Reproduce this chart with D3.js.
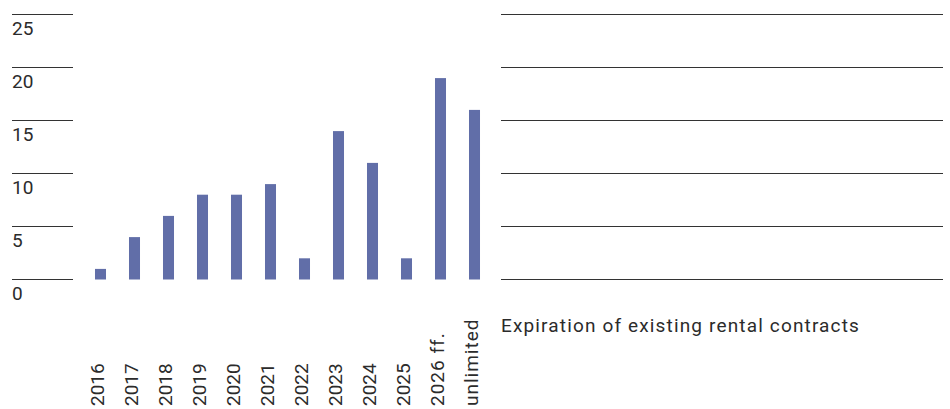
<!DOCTYPE html>
<html>
<head>
<meta charset="utf-8">
<script src="https://cdn.jsdelivr.net/npm/d3@7"></script>
<style>
  html, body { margin: 0; padding: 0; background: #fff; }
  svg { display: block; }
  text { font-family: Roboto, "DejaVu Sans", sans-serif; fill: #2b2b2b; }
</style>
</head>
<body>
<svg id="chart" width="950" height="409"></svg>
<script>
// Expiring rental contracts per year (share, %)
const categories = ["2016", "2017", "2018", "2019", "2020", "2021", "2022", "2023", "2024", "2025", "2026 ff.", "unlimited"];
const values = [1, 4, 6, 8, 8, 9, 2, 14, 11, 2, 19, 16];
const yTicks = [0, 5, 10, 15, 20, 25];
const caption = "Expiration of existing rental contracts";

const svg = d3.select("#chart");

const y = d3.scaleLinear().domain([0, 25]).range([279.5, 14.5]);

const x = d3.scaleBand()
  .domain(categories)
  .range([83.5, 491.5])
  .paddingInner(0.676)
  .paddingOuter(0.338);

// Horizontal gridlines: short stubs behind the tick labels and a wide panel on the right
const gridSegments = [[12, 73], [501, 943]];
gridSegments.forEach(([x0, x1]) => {
  svg.append("g").selectAll("line")
    .data(yTicks)
    .join("line")
    .attr("x1", x0).attr("x2", x1)
    .attr("y1", d => y(d)).attr("y2", d => y(d))
    .attr("stroke", "#333")
    .attr("stroke-width", 1.2);
});

// Y tick labels sit just below their gridline
svg.append("g").selectAll("text")
  .data(yTicks)
  .join("text")
  .attr("x", 12)
  .attr("y", d => y(d) + 20)
  .attr("font-size", 19)
  .text(d => d);

// Bars
svg.append("g").selectAll("rect")
  .data(values)
  .join("rect")
  .attr("x", (d, i) => x(categories[i]))
  .attr("width", x.bandwidth())
  .attr("y", d => y(d))
  .attr("height", d => y(0) - y(d))
  .attr("fill", "#616ea8");

// Rotated category labels, reading bottom to top
svg.append("g").selectAll("text")
  .data(categories)
  .join("text")
  .attr("transform", d => `translate(${x(d) + x.bandwidth() / 2 + 3},406) rotate(-90)`)
  .attr("font-size", 19)
  .attr("letter-spacing", d => /^\d+$/.test(d) ? 0 : 1)
  .attr("text-anchor", "start")
  .text(d => d);

// Caption
svg.append("text")
  .attr("x", 501)
  .attr("y", 332)
  .attr("font-size", 19)
  .attr("letter-spacing", 1.15)
  .text(caption);
</script>
</body>
</html>
